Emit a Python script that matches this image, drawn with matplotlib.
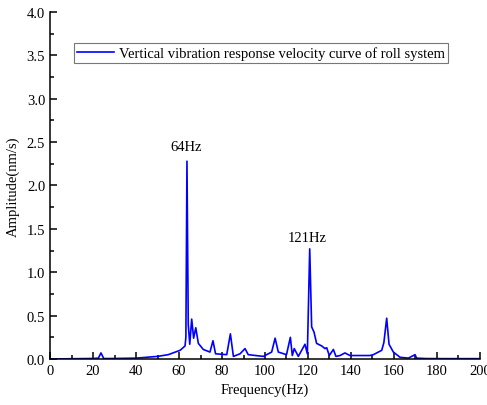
import matplotlib
matplotlib.use("Agg")
import matplotlib.pyplot as plt
from matplotlib.ticker import MultipleLocator

plt.rcParams['font.family'] = ['Liberation Serif', 'DejaVu Serif']
plt.rcParams['mathtext.fontset'] = 'stix'

freq = [0, 10, 20, 22.5, 23.7, 25, 30, 40, 45, 50, 55, 60.5, 62.8, 63.2, 63.7, 64.3, 65.0, 65.9, 66.8, 67.8,
        69.0, 71.3, 74.4, 75.8, 77.0, 82.2, 83.9, 85.3, 88.4, 90.7, 92.2, 99.2, 103.1, 104.7, 106.2,
        110.0, 111.8, 112.7, 113.6, 115.5, 118.6, 119.7, 120.8, 121.7, 122.8, 124.0, 126.4, 127.9,
        128.7, 129.9, 131.8, 133.0, 134.9, 137.2, 139.5, 148.8, 150.4, 154.3, 155.3, 156.6, 157.7,
        159.7, 162.8, 166.7, 169.8, 170.5, 175, 185, 200]
amp = [0.0, 0.003, 0.006, 0.01, 0.07, 0.005, 0.006, 0.01, 0.02, 0.03, 0.05, 0.10, 0.15, 0.25, 2.28, 0.4, 0.17, 0.46, 0.24, 0.36,
       0.18, 0.11, 0.08, 0.21, 0.06, 0.05, 0.29, 0.03, 0.06, 0.12, 0.05, 0.03, 0.08, 0.24, 0.08,
       0.05, 0.25, 0.04, 0.12, 0.03, 0.17, 0.06, 1.27, 0.37, 0.31, 0.18, 0.15, 0.12,
       0.13, 0.04, 0.11, 0.03, 0.04, 0.07, 0.04, 0.04, 0.05, 0.10, 0.19, 0.47, 0.17,
       0.08, 0.02, 0.01, 0.05, 0.01, 0.005, 0.004, 0.004]

peak_labels = ["64Hz", "121Hz"]
peak_pos = [(63.2, 2.37), (119.7, 1.32)]

fig = plt.figure(figsize=(4.87, 4.06), dpi=100)
ax = fig.add_axes([0.1027, 0.1133, 0.8829, 0.8547])
ax.plot(freq, amp, color='#0000ff', lw=1.2,
        label='Vertical vibration response velocity curve of roll system')
ax.set_xlim(0, 200)
ax.set_ylim(0, 4.0)
ax.xaxis.set_major_locator(MultipleLocator(20))
ax.xaxis.set_minor_locator(MultipleLocator(10))
ax.yaxis.set_major_locator(MultipleLocator(0.5))
ax.yaxis.set_minor_locator(MultipleLocator(0.25))
ax.yaxis.set_major_formatter(matplotlib.ticker.FormatStrFormatter('%.1f'))
ax.tick_params(which='both', direction='in', labelsize=10.5, width=1.1, colors='black')
ax.tick_params(which='major', length=5)
ax.tick_params(which='minor', length=3)
for s in ['top', 'right']:
    ax.spines[s].set_visible(False)
for s in ['left', 'bottom']:
    ax.spines[s].set_linewidth(1.1)
ax.set_xlabel('Frequency(Hz)', fontsize=10.5, labelpad=4)
ax.set_ylabel('Amplitude(nm/s)', fontsize=10.5, labelpad=5)
for t, (x, y) in zip(peak_labels, peak_pos):
    ax.text(x, y, t, ha='center', va='bottom', fontsize=10.5)
leg = ax.legend(loc='upper left', bbox_to_anchor=(0.055, 0.91), fontsize=10.5, frameon=True,
                fancybox=False, edgecolor='#555555', handlelength=2.6, handletextpad=0.3,
                borderpad=0.2, borderaxespad=0)
leg.get_frame().set_linewidth(0.8)
fig.savefig('out.png', dpi=100)
